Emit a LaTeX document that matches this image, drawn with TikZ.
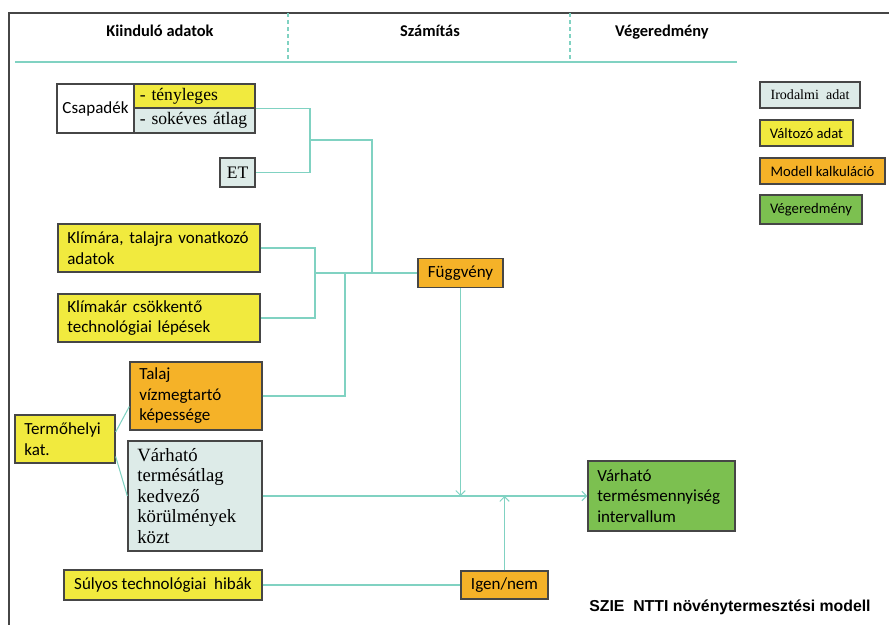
\documentclass[tikz,border=0pt]{standalone}
\usepackage{fontspec}
\usetikzlibrary{arrows.meta}
\setmainfont{Carlito}
\newfontfamily\serifdoc{Liberation Serif}
\newfontfamily\titlefont{Liberation Sans}
\definecolor{irod}{RGB}{221,235,232}
\definecolor{valt}{RGB}{241,234,62}
\definecolor{modell}{RGB}{245,178,40}
\definecolor{veg}{RGB}{124,192,80}
\definecolor{vonal}{RGB}{128,210,194}
\definecolor{keret}{RGB}{70,70,70}

\begin{document}
\begin{tikzpicture}[x=0.03cm, y=-0.03cm, >={Straight Barb[length=4pt,width=8pt]},
	box/.style={draw=keret, line width=1.1pt, inner xsep=8pt, inner ysep=2pt, align=left, font=\fontsize{14.5}{17.5}\selectfont},
	valtozo/.style={box, fill=valt},
	modellk/.style={box, fill=modell},
	vege/.style={box, fill=veg},
	irodalmi/.style={box, fill=irod, font=\serifdoc\fontsize{15}{17}\selectfont},
	jelmagy/.style={font=\fontsize{12.5}{14}\selectfont, inner xsep=5pt, minimum height=0.78cm},
	conn/.style={draw=vonal, line width=0.9pt},
	fejlec/.style={anchor=base, font=\bfseries\fontsize{14}{16}\selectfont}]
				\useasboundingbox (0,0) rectangle (889,625);
				\draw[keret, line width=1.2pt] (9,625) -- (9,13) -- (889,13);

				% fejlec
				\node[fejlec] (kiind) at (160,37) {Kiinduló adatok};
				\node[fejlec] (szam) at (430,37) {Számítás};
				\node[fejlec] (vegh) at (662,37) {Végeredmény};
				\draw[conn, dashed] (288,13) -- (288,62);
				\draw[conn, dashed] (570,13) -- (570,62);
				\draw[conn] (15,62) -- (737,62);

				% bemenetek
				\node[box, fill=white, inner xsep=4pt, minimum width=2.31cm, minimum height=1.47cm] (csap) at (95.5,108.5) {Csapadék};
				\node[valtozo, font=\serifdoc\fontsize{15}{17}\selectfont, inner xsep=5pt, text width=3.28cm, minimum height=0.72cm] (teny) at (194.5,96) {- tényleges};
				\node[irodalmi, inner xsep=5pt, text width=3.28cm, minimum height=0.75cm] (sokev) at (194.5,120.5) {- sokéves átlag};
				\node[irodalmi, inner xsep=4pt, minimum width=1.05cm, minimum height=0.87cm] (et) at (237.5,172.5) {ET};
				\node[valtozo, text width=5.5cm, minimum height=1.44cm] (klima) at (159,248) {Klímára, talajra vonatkozó\\adatok};
				\node[valtozo, text width=5.5cm, minimum height=1.44cm] (klimakar) at (159,318) {Klímakár csökkentő\\technológiai lépések};
				\node[modellk, text width=3.4cm, minimum height=2.04cm] (talaj) at (196,396) {Talaj\\vízmegtartó\\képessége};
				\node[valtozo, text width=2.44cm, minimum height=1.44cm] (termo) at (65,439) {Termőhelyi\\kat.};
				\node[irodalmi, font=\serifdoc\fontsize{16}{17.5}\selectfont, text width=3.46cm, minimum height=3.3cm] (varhato) at (195,496) {Várható\\termésátlag\\kedvező\\körülmények\\közt};
				\node[valtozo, inner xsep=4pt, minimum width=5.94cm, minimum height=0.9cm] (sulyos) at (163,585) {Súlyos technológiai\ \ hibák};

				% szamitas es eredmeny
				\node[modellk, minimum width=2.55cm, minimum height=0.87cm] (fugg) at (460.5,273) {Függvény};
				\node[modellk, minimum width=2.61cm, minimum height=0.84cm] (igen) at (504.5,585) {Igen/nem};
				\node[vege, text width=3.85cm, minimum height=2.1cm] (eredm) at (661.5,496) {Várható\\termésmennyiség\\intervallum};

				% jelmagyarazat
				\node[irodalmi, jelmagy, font=\serifdoc\fontsize{12}{14}\selectfont, minimum width=3.0cm] (lirod) at (810,95) {Irodalmi\ \ adat};
				\node[valtozo, jelmagy, minimum width=2.79cm] (lvalt) at (806.5,133) {Változó adat};
				\node[modellk, jelmagy, minimum width=3.75cm] (lmod) at (822.5,171) {Modell kalkuláció};
				\node[vege, jelmagy, minimum width=3.06cm, minimum height=0.87cm] (lveg) at (811,209.5) {Végeredmény};

				\node[font=\titlefont\bfseries\fontsize{13.5}{16}\selectfont] (titulus) at (730,607) {SZIE\ \ NTTI növénytermesztési modell};

				% osszekotesek
				\coordinate (ja) at (310,140);
				\coordinate (jb) at (372,273);
				\coordinate (jc) at (315,273);
				\coordinate (jd) at (345,273);
				\draw[conn] (teny.south east) -| (ja) |- (et.east);
				\draw[conn] (ja) -| (jb);
				\draw[conn] (klima.east) -| (jc) |- (klimakar.east);
				\draw[conn] (talaj.east) -| (jd);
				\draw[conn] (jc) -- (fugg.west);
				\draw[conn] ([yshift=6pt]termo.east) -- ([yshift=-9pt]talaj.west);
				\draw[conn] ([yshift=-15pt]termo.east) -- (varhato.west);

				\coordinate (jm) at (fugg.south |- eredm.west);
				\coordinate (jn) at (igen.north |- eredm.west);
				\draw[conn, ->] (fugg.south) -- (jm);
				\draw[conn, ->] (varhato.east) -- (eredm.west);
				\draw[conn, ->] (igen.north) -- (jn);
				\draw[conn] (sulyos.east) -- (igen.west);

			\end{tikzpicture}
\end{document}
